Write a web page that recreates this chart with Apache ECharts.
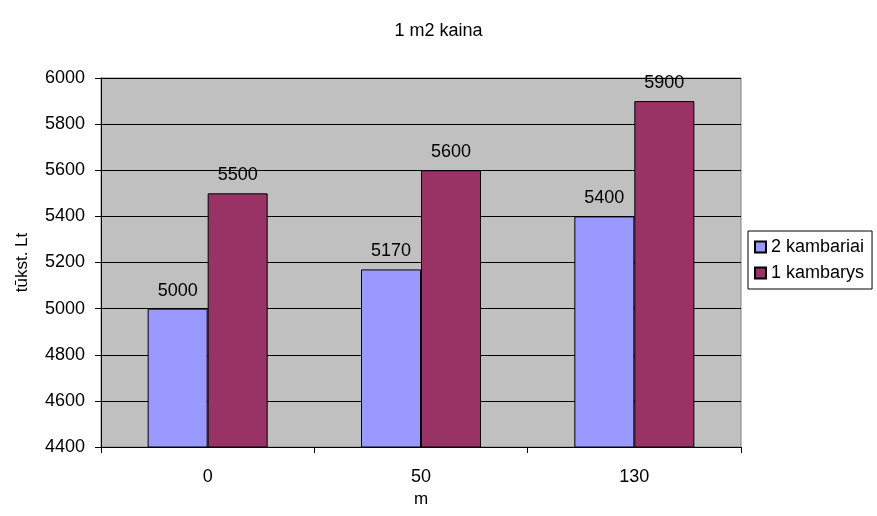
<!DOCTYPE html>
<html><head><meta charset="utf-8">
<script src="https://cdn.jsdelivr.net/npm/echarts@6/dist/echarts.min.js"></script>
<style>html,body{margin:0;padding:0;background:#fff}#c{width:877px;height:516px}</style>
</head><body><div id="c"></div>
<script>
var categories = ['0', '50', '130'];
var seriesNames = ['2 kambariai', '1 kambarys'];
var twoRooms = [5000, 5170, 5400];
var oneRoom = [5500, 5600, 5900];
var yMin = 4400, yMax = 6000, yStep = 200;

var chart = echarts.init(document.getElementById('c'));
var font = 'Arial, "Liberation Sans", sans-serif';
var fs = 18;
chart.setOption({
  animation: false,
  title: { text: '1 m2 kaina', left: 'center', top: 17, textStyle: { fontFamily: font, fontSize: 18, fontWeight: 'normal', color: '#000' } },
  grid: { left: 101, right: 136, top: 78, bottom: 69, outerBoundsMode: 'none', containLabel: false, show: true, backgroundColor: '#C0C0C0', borderColor: '#808080', borderWidth: 1 },
  legend: {
    orient: 'vertical', left: 748, top: 231,
    data: seriesNames, itemWidth: 11, itemHeight: 11, itemGap: 8,
    borderColor: '#000', borderWidth: 1, padding: [7, 8, 7, 6], backgroundColor: '#fff',
    textStyle: { fontFamily: font, fontSize: 18, color: '#000' },
    icon: 'rect'
  },
  xAxis: {
    type: 'category', data: categories,
    name: 'm', nameLocation: 'middle', nameGap: 42,
    nameTextStyle: { fontFamily: font, fontSize: 17, color: '#000' },
    axisLine: { lineStyle: { color: '#000' } },
    axisTick: { show: true, length: 6, lineStyle: { color: '#000' } },
    axisLabel: { fontFamily: font, fontSize: fs, color: '#000', margin: 21 },
    splitLine: { show: false }
  },
  yAxis: {
    type: 'value', min: yMin, max: yMax, interval: yStep,
    name: 'tūkst. Lt', nameLocation: 'middle', nameGap: 70, nameRotate: 90,
    nameTextStyle: { fontFamily: font, fontSize: 17, color: '#000' },
    axisLine: { show: true, lineStyle: { color: '#000' } },
    axisTick: { show: true, length: 6, lineStyle: { color: '#000' } },
    axisLabel: { fontFamily: font, fontSize: fs, color: '#000', margin: 16, formatter: function (v) { return String(v); } },
    splitLine: { show: true, lineStyle: { color: '#000', width: 1 } }
  },
  series: [
    { name: seriesNames[0], type: 'bar', data: twoRooms, barWidth: 60, barGap: '0%',
      itemStyle: { color: '#9999FF', borderColor: '#000', borderWidth: 1 },
      label: { show: true, position: 'top', distance: 9, fontFamily: font, fontSize: fs, color: '#000' } },
    { name: seriesNames[1], type: 'bar', data: oneRoom, barWidth: 60,
      itemStyle: { color: '#993366', borderColor: '#000', borderWidth: 1 },
      label: { show: true, position: 'top', distance: 9, fontFamily: font, fontSize: fs, color: '#000' } }
  ]
});
</script></body></html>
